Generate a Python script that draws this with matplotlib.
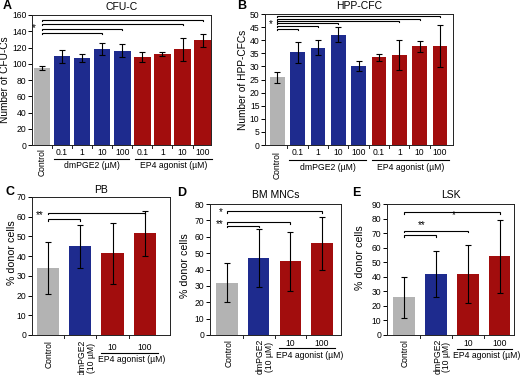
import matplotlib
matplotlib.use("Agg")
import matplotlib.pyplot as plt
import matplotlib.transforms as mtransforms

plt.rcParams['font.family'] = ['Liberation Sans', 'DejaVu Sans']

W, H = 520, 375
GRAY, BLUE, RED = "#b3b3b3", "#1e2b8e", "#a20d0d"

# ---- data ----
conc = ["0.1", "1", "10", "100"]
A_ctrl, A_ctrl_err = 95, 2.5
A_dm = [109, 107, 118, 116]
A_dm_err = [8, 5, 7.5, 8]
A_ep4 = [108, 112, 118, 129]
A_ep4_err = [6, 2, 14, 8]

B_ctrl, B_ctrl_err = 25.8, 2.1
B_dm = [35.4, 37.2, 42.1, 30.2]
B_dm_err = [4, 2.9, 2.9, 1.8]
B_ep4 = [33.4, 34.4, 37.6, 37.8]
B_ep4_err = [1.4, 5.7, 2, 8]

C_vals = [34, 45, 41.5, 51.5]
C_err = [13, 11, 15.5, 11.5]
D_vals = [32, 47, 45, 56]
D_err = [12, 17.5, 18, 16]
E_vals = [26, 42, 42, 54]
E_err = [14, 16, 20, 25]
ep4_doses = ["10", "100"]

TICK_FS = 6.2
XLAB_FS = 6.2
YLAB_FS = 7.3
TITLE_FS = 7.5

fig = plt.figure(figsize=(W/100, H/100), dpi=100)

def rect(l, r, t, b):
    return [l/W, 1-b/H, (r-l)/W, (b-t)/H]

def fy(ypix):
    return 1 - ypix/H

def style(ax):
    for s in ax.spines.values():
        s.set_linewidth(0.7)
        s.set_color('#222222')
    ax.tick_params(axis='y', direction='out', length=3, width=0.7, labelsize=TICK_FS, pad=1)
    ax.tick_params(axis='x', which='both', length=0, labelbottom=False)

def bracket(ax, x0, x1, y, tick):
    ax.plot([x0, x0, x1, x1], [y - tick, y, y, y - tick], color='black', lw=0.8,
            clip_on=False, solid_joinstyle='miter')

def boundary_ticks(ax, n, ylen_pix=3):
    tr = mtransforms.blended_transform_factory(ax.transData, ax.transAxes)
    h = ax.get_position().height * H
    for i in range(n - 1):
        ax.plot([i + 0.5, i + 0.5], [0, -ylen_pix / h], color='#222222', lw=0.7,
                transform=tr, clip_on=False)

# ---------------- Panel A & B ----------------
def top_panel(rc, ctrl, ctrl_err, dm, dm_err, ep4, ep4_err, ylim, ystep, title,
              ylabel, ylab_x, brackets, star, xlim, width, ypix):
    ax = fig.add_axes(rect(*rc))
    xs = list(range(9))
    vals = [ctrl] + dm + ep4
    errs = [ctrl_err] + dm_err + ep4_err
    cols = [GRAY] + [BLUE]*4 + [RED]*4
    ax.bar(xs, vals, width=width, color=cols, edgecolor='none', zorder=2)
    ax.errorbar(xs, vals, yerr=errs, fmt='none', ecolor='black', elinewidth=0.8,
                capsize=2.2, capthick=0.8, zorder=3)
    ax.set_xlim(*xlim)
    ax.set_ylim(*ylim)
    ax.set_yticks(range(ylim[0], ylim[1] + 1, ystep))
    style(ax)
    boundary_ticks(ax, 9)
    ax.set_title(title, fontsize=TITLE_FS, pad=3.5)
    fig.text(ylab_x/W, fy((rc[2]+rc[3])/2), ylabel, rotation=90, ha='center',
             va='center', fontsize=YLAB_FS)
    tr = mtransforms.blended_transform_factory(ax.transData, fig.transFigure)
    ax.text(0, fy(ypix['ctrl']), "Control", rotation=90, ha='center', va='top',
            fontsize=XLAB_FS, transform=tr)
    for i, c in enumerate(conc):
        ax.text(1 + i, fy(ypix['num']), c, ha='center', va='center', fontsize=XLAB_FS, transform=tr)
        ax.text(5 + i, fy(ypix['num']), c, ha='center', va='center', fontsize=XLAB_FS, transform=tr)
    for x0, x1, lab in [(0.6, 4.35, "dmPGE2 (µM)"), (4.65, 8.45, "EP4 agonist (µM)")]:
        ax.plot([x0, x1], [fy(ypix['line'])]*2, color='black', lw=0.8, transform=tr, clip_on=False)
        ax.text((x0 + x1)/2, fy(ypix['lab']), lab, ha='center', va='center',
                fontsize=XLAB_FS, transform=tr)
    tick = (ylim[1]-ylim[0]) * 0.008
    for target, y in brackets:
        bracket(ax, 0, target, y, tick)
    ax.text(star[0], star[1], "*", ha='center', va='center', fontsize=7)
    return ax

top_panel((32, 211, 15, 145), A_ctrl, A_ctrl_err, A_dm, A_dm_err, A_ep4, A_ep4_err,
          (0, 160), 20, "CFU-C", "Number of CFU-Cs", 5.5,
          [(3, 138), (4, 143), (7, 148.5), (8, 153.5)], (-0.43, 144),
          (-0.5, 8.42), 0.82,
          dict(ctrl=148, num=153, line=158.5, lab=166))

top_panel((265, 453, 14, 145), B_ctrl, B_ctrl_err, B_dm, B_dm_err, B_ep4, B_ep4_err,
          (0, 50), 5, "HPP-CFC", "Number of HPP-CFCs", 243,
          [(1, 44.2), (2, 45.4), (3, 46.4), (6, 47.2), (7, 48.2), (8, 49.2)], (-0.3, 46.2),
          (-0.6, 8.64), 0.72,
          dict(ctrl=151, num=153, line=160.5, lab=167))

# ---------------- Panels C, D, E ----------------
def bottom_panel(rc, vals, errs, ylim, title, ylab_xy, brackets, stars, xlim, ypix):
    ax = fig.add_axes(rect(*rc))
    xs = list(range(4))
    cols = [GRAY, BLUE, RED, RED]
    ax.bar(xs, vals, width=0.68, color=cols, edgecolor='none', zorder=2)
    ax.errorbar(xs, vals, yerr=errs, fmt='none', ecolor='black', elinewidth=0.8,
                capsize=2.2, capthick=0.8, zorder=3)
    ax.set_xlim(*xlim)
    ax.set_ylim(*ylim)
    ax.set_yticks(range(ylim[0], ylim[1] + 1, 10))
    style(ax)
    boundary_ticks(ax, 4)
    ax.set_title(title, fontsize=TITLE_FS, pad=ypix['tpad'])
    fig.text(ylab_xy[0]/W, fy(ylab_xy[1]), "% donor cells", rotation=90, ha='center',
             va='center', fontsize=YLAB_FS + 0.4)
    tr = mtransforms.blended_transform_factory(ax.transData, fig.transFigure)
    ax.text(0.05, fy(ypix['ctrl']), "Control", rotation=90, ha='center', va='top',
            fontsize=XLAB_FS, transform=tr)
    ax.text(1.2, fy(ypix['ctrl']), "dmPGE2\n(10 µM)", rotation=90, ha='center', va='top',
            fontsize=XLAB_FS, transform=tr, linespacing=1.0)
    for i, c in enumerate(ep4_doses):
        ax.text(2 + i, fy(ypix['num']), c, ha='center', va='center', fontsize=XLAB_FS, transform=tr)
    ax.plot([1.65, 3.4], [fy(ypix['line'])]*2, color='black', lw=0.8, transform=tr, clip_on=False)
    ax.text(2.6, fy(ypix['lab']), "EP4 agonist (µM)", ha='center', va='center',
            fontsize=XLAB_FS, transform=tr)
    tick = (ylim[1]-ylim[0]) * 0.012
    for target, y in brackets:
        bracket(ax, 0, target, y, tick)
    for x, y, s in stars:
        ax.text(x, y, s, ha='center', va='center', fontsize=7)
    return ax

bottom_panel((32, 170, 197, 335), C_vals, C_err, (0, 70), "PB", (12, 253),
             [(3, 62.1), (1, 58.7)], [(-0.25, 60.8, "**")], (-0.48, 3.77),
             dict(ctrl=340, num=347, line=352.5, lab=360, tpad=3))

bottom_panel((210, 341, 204, 335), D_vals, D_err, (0, 80), "BM MNCs", (185, 266),
             [(3, 75.7), (2, 68.8), (1, 66.7)],
             [(-0.2, 75.2, "*"), (-0.22, 67.6, "**")], (-0.54, 3.6),
             dict(ctrl=339, num=343, line=348, lab=355, tpad=4))

bottom_panel((387, 514, 204, 335), E_vals, E_err, (0, 90), "LSK", (360, 258),
             [(3, 84.3), (2, 71.7), (1, 68.7)],
             [(1.55, 82.5, "*"), (0.55, 75.3, "**")], (-0.53, 3.45),
             dict(ctrl=339, num=343, line=348.5, lab=356, tpad=4))

# panel letters
for lab, x, y in [("A", 3, 6), ("B", 237, 6), ("C", 5, 192), ("D", 177, 193), ("E", 352, 193)]:
    fig.text(x/W, fy(y), lab, fontsize=9, fontweight='bold', ha='left', va='center')

fig.savefig("out.png", dpi=100)
